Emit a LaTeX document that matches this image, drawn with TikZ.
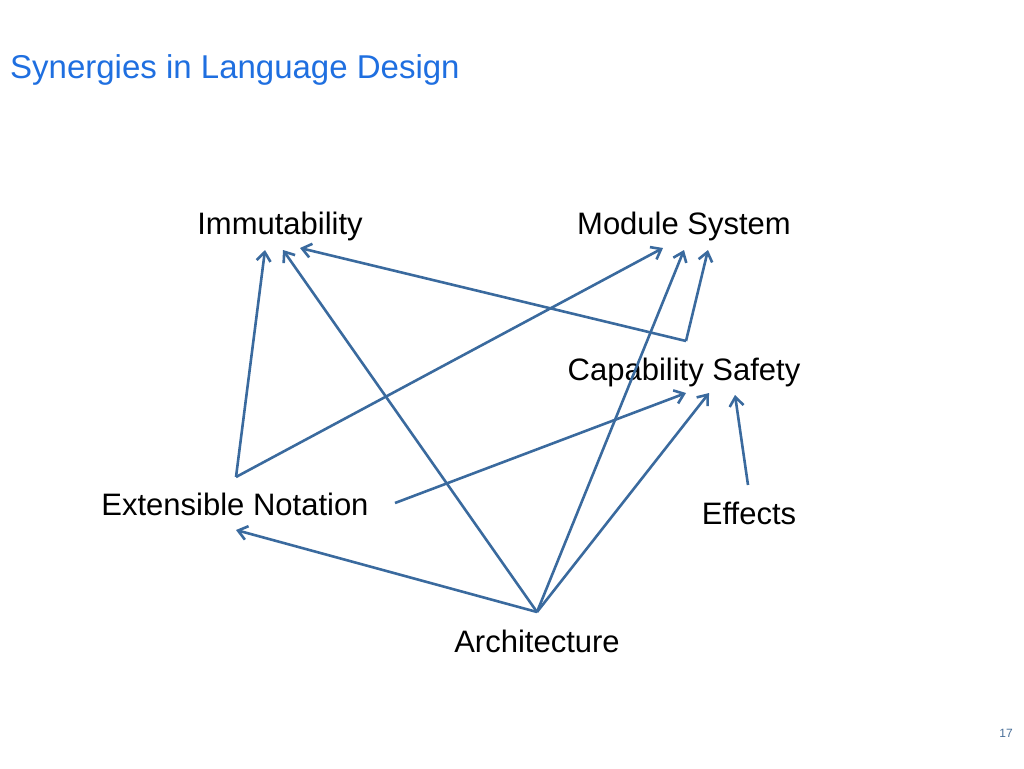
\documentclass[tikz,border=0pt]{standalone}
\usepackage{fontspec}
\setmainfont{Liberation Sans}
\usetikzlibrary{arrows.meta}
\definecolor{arr}{HTML}{3A6A9E}
\definecolor{ttl}{HTML}{1F6FE0}
\begin{document}
\begin{tikzpicture}[x=1pt,y=-1pt,
  lab/.style={font=\fontsize{31}{34}\selectfont,inner sep=0pt,anchor=base},
  con/.style={draw=arr,line width=2.6pt,-{Straight Barb[length=9pt,width=14pt,line width=2.6pt]}}]
\useasboundingbox (0,0) rectangle (1024,768);
\node[font=\fontsize{33}{36}\selectfont,text=ttl,anchor=base west,inner sep=0pt] (title) at (10,78) {Synergies in Language Design};
\node[lab] (imm) at (280,234) {Immutability};
\node[lab] (mod) at (684,234) {Module System};
\node[lab] (cap) at (684,380) {Capability Safety};
\node[lab] (ext) at (235,515) {Extensible Notation};
\node[lab] (eff) at (749,524) {Effects};
\node[lab] (arc) at (537,652) {Architecture};
\node[font=\fontsize{12}{14}\selectfont,text=arr!80!gray,anchor=base] (pg) at (1006,737) {17};
\coordinate (extT) at (236,477);
\coordinate (extR) at (395,503);
\coordinate (capT) at (686,341);
\coordinate (arcT) at (537,612);
\coordinate (effT) at (748,485);
\coordinate (imm1) at (265,250);
\coordinate (imm2) at (283,250);
\coordinate (imm3) at (300,248);
\coordinate (mod1) at (663,248);
\coordinate (mod2) at (684,250);
\coordinate (mod3) at (708,250);
\coordinate (cap1) at (686,393);
\coordinate (cap2) at (709,393);
\coordinate (cap3) at (735,395);
\coordinate (extB) at (236,530);
\draw[con] (extT) -- (imm1);
\draw[con] (extT) -- (mod1);
\draw[con] (capT) -- (imm3);
\draw[con] (capT) -- (mod3);
\draw[con] (extR) -- (cap1);
\draw[con] (arcT) -- (imm2);
\draw[con] (arcT) -- (mod2);
\draw[con] (arcT) -- (cap2);
\draw[con] (arcT) -- (extB);
\draw[con] (effT) -- (cap3);
\end{tikzpicture}
\end{document}
